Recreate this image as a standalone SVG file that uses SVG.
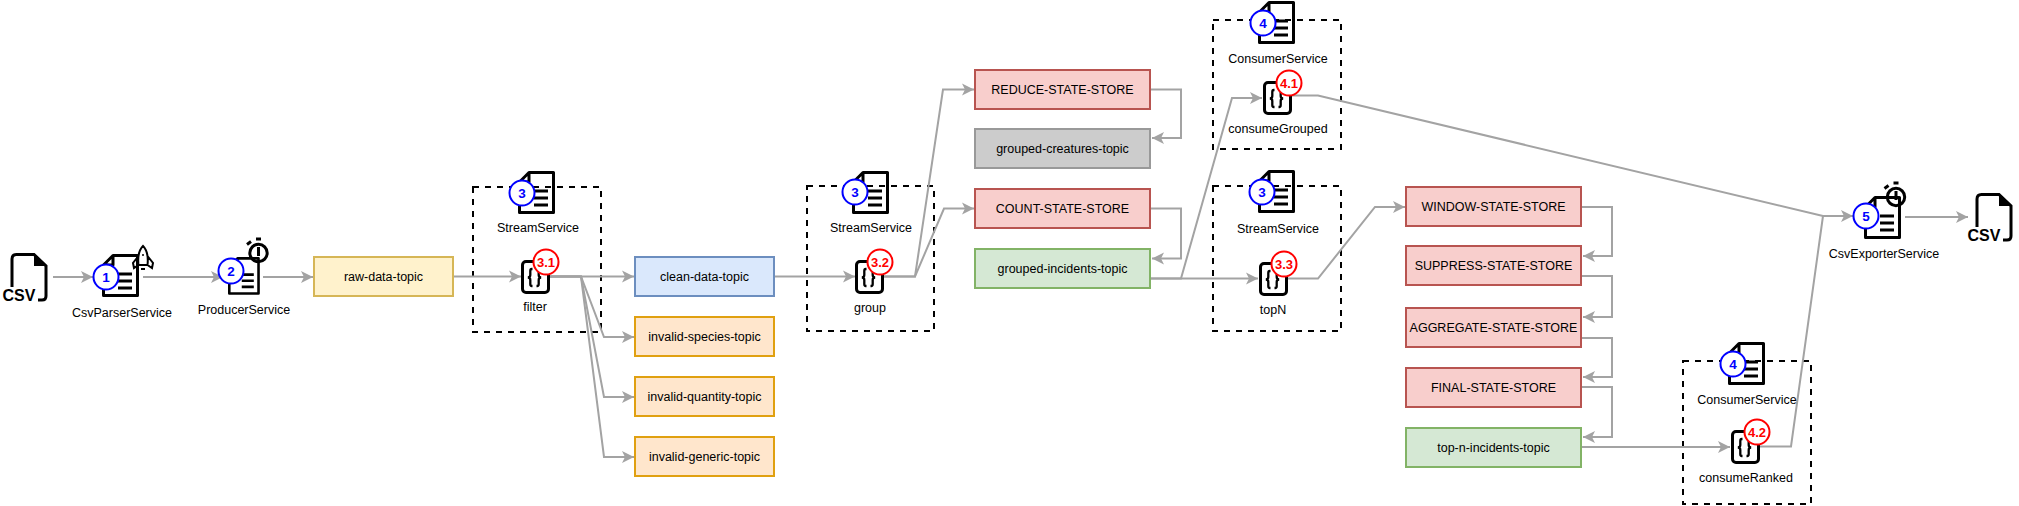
<svg xmlns="http://www.w3.org/2000/svg" xmlns:xlink="http://www.w3.org/1999/xlink" width="2019" height="506" viewBox="0 0 2019 506">
<style>
text{font-family:"Liberation Sans",Arial,sans-serif;font-size:12.5px;fill:#000;text-anchor:middle;dominant-baseline:central}
.c{fill:none;stroke:#a3a3a3;stroke-width:2;marker-end:url(#a)}
.n{fill:none;stroke:#a3a3a3;stroke-width:2}
.box{fill:none;stroke:#000;stroke-width:2;stroke-dasharray:6 6}
.y{fill:#fff2cc;stroke:#d6b656;stroke-width:2}
.b{fill:#dae8fc;stroke:#6c8ebf;stroke-width:2}
.o{fill:#ffe6cc;stroke:#e0a010;stroke-width:2}
.r{fill:#f8cecc;stroke:#b85450;stroke-width:2}
.g{fill:#cccccc;stroke:#999999;stroke-width:2}
.v{fill:#d5e8d4;stroke:#82b366;stroke-width:2}
.bb{fill:#fff;stroke:#0000ff;stroke-width:2}
.rb{fill:#fff;stroke:#ff0000;stroke-width:2}
.bt{fill:#0000ff;font-weight:bold;font-size:13.5px}
.rt{fill:#ff0000;font-weight:bold;font-size:13px}
.csv{font-weight:bold;font-size:16px;text-anchor:start;dominant-baseline:auto}
.i{fill:none;stroke:#000;stroke-width:3}
</style>
<defs>
<marker id="a" markerUnits="userSpaceOnUse" markerWidth="14" markerHeight="16" refX="13" refY="7" orient="auto"><path d="M1 1L13 7L1 13L4 7Z" fill="#a3a3a3"/></marker>
<g id="doc"><path class="i" stroke-linejoin="round" d="M11 1.500H35.500V41.500H1.500V11ZM11 1.500V11H1.500"/><path class="i" d="M16 20H30M16 27H30M16 34H30"/></g>
<g id="fn"><rect class="i" x="1.500" y="1.500" width="26" height="31" rx="3.500"/><path fill="none" stroke="#000" stroke-width="2.300" d="M11.500 9H10.800Q9.300 9 9.300 11V15Q9.300 17.500 6.800 17.500Q9.300 17.500 9.300 20V24Q9.300 26 10.800 26H11.500M15.500 9H16.200Q17.700 9 17.700 11V15Q17.700 17.500 20.200 17.500Q17.700 17.500 17.700 20V24Q17.700 26 16.200 26H15.500"/></g>
<g id="timer"><circle class="i" cx="0" cy="0" r="8.700"/><path class="i" d="M0 -6V3M-2.500 -14H2.500M-11.500 -8.500L-7.500 -11.500"/></g>
<g id="file"><path class="i" d="M2 34V6Q2 1.500 6.500 1.500H24L36 13V43Q36 47 32 47H28"/><path d="M24 1.500L36 13H24Z"/></g>
</defs>
<g id="group-filter"><rect class="box" x="473" y="187" width="128" height="145"/></g>
<g id="group-group"><rect class="box" x="807" y="186" width="127" height="145"/></g>
<g id="group-consumeGrouped"><rect class="box" x="1213" y="20" width="128" height="129"/></g>
<g id="group-topN"><rect class="box" x="1213" y="186" width="128" height="145"/></g>
<g id="group-consumeRanked"><rect class="box" x="1683" y="361" width="128" height="143"/></g>
<g id="connectors">
<path class="c" d="M53 277H93"/>
<path class="c" d="M143 277H223"/>
<path class="c" d="M263 277H313"/>
<path class="c" d="M454 276.500H521"/>
<path class="c" d="M550 276.500H634"/>
<path class="c" d="M550 276.500H581L604 337H634"/>
<path class="c" d="M550 276.500H581L604 397H634"/>
<path class="c" d="M550 276.500H581L604 457H634"/>
<path class="c" d="M775 276.500H855"/>
<path class="c" d="M884 276.500H915L943 89.500H974"/>
<path class="c" d="M884 276.500H915L944 208.500H974"/>
<path class="c" d="M1151 89.500H1181V138H1152"/>
<path class="c" d="M1151 208.500H1181V258.500H1152"/>
<path class="c" d="M1151 278.500H1258"/>
<path class="c" d="M1151 278.500H1181L1232 98H1262"/>
<path class="c" d="M1288 278.500H1318L1375 207H1405"/>
<path class="c" d="M1292 95.500H1318L1823 216H1853"/>
<path class="c" d="M1582 207H1612V256H1583"/>
<path class="c" d="M1582 276H1612V317H1583"/>
<path class="c" d="M1582 338H1612V377H1583"/>
<path class="c" d="M1582 387H1612V437H1583"/>
<path class="c" d="M1582 447H1730"/>
<path class="n" d="M1760 446.500H1791L1823 216"/>
<path class="c" d="M1905 217H1968"/>
</g>
<g id="csv-in"><use href="#file" x="10" y="253"/><rect x="2" y="287" width="34" height="16" fill="#fff"/><text class="csv" x="2.500" y="301">CSV</text></g>
<g id="CsvParserService"><use href="#doc" x="102" y="254"/>
<path class="i" style="stroke-width:2" d="M143 246C139 250 137.500 256 138.500 265H147.500C148.500 256 147 250 143 246ZM138.500 256L133 263L134 268L138.500 265M147.500 256L153 263L152 268L147.500 265M141 269H145"/><circle cx="143" cy="255" r="1"/>
<circle class="bb" cx="106" cy="277" r="12.500"/><text class="bt" x="106" y="277">1</text><text x="122" y="313">CsvParserService</text></g>
<g id="ProducerService"><use href="#doc" transform="translate(228 257) scale(.86 .88)"/><use href="#timer" x="258.500" y="253"/>
<circle class="bb" cx="231" cy="271" r="12.500"/><text class="bt" x="231" y="271">2</text><text x="244" y="310">ProducerService</text></g>
<g id="raw-data-topic"><rect class="y" x="314" y="257" width="139" height="39"/><text x="383.500" y="276.500">raw-data-topic</text></g>
<g id="StreamService-1"><use href="#doc" x="518" y="171"/><circle class="bb" cx="522" cy="193" r="12.500"/><text class="bt" x="522" y="193">3</text><text x="538" y="228">StreamService</text></g>
<g id="filter"><use href="#fn" x="521" y="260"/><circle class="rb" cx="546" cy="262" r="12.500"/><text class="rt" x="546" y="262">3.1</text><text x="535" y="307">filter</text></g>
<g id="clean-data-topic"><rect class="b" x="635" y="257" width="139" height="39"/><text x="704.500" y="276.500">clean-data-topic</text></g>
<g id="invalid-species-topic"><rect class="o" x="635" y="317" width="139" height="39"/><text x="704.500" y="336.500">invalid-species-topic</text></g>
<g id="invalid-quantity-topic"><rect class="o" x="635" y="377" width="139" height="39"/><text x="704.500" y="396.500">invalid-quantity-topic</text></g>
<g id="invalid-generic-topic"><rect class="o" x="635" y="437" width="139" height="39"/><text x="704.500" y="456.500">invalid-generic-topic</text></g>
<g id="StreamService-2"><use href="#doc" x="852" y="171"/><circle class="bb" cx="855" cy="192" r="12.500"/><text class="bt" x="855" y="192">3</text><text x="871" y="228">StreamService</text></g>
<g id="group"><use href="#fn" x="855" y="260"/><circle class="rb" cx="880" cy="262" r="12.500"/><text class="rt" x="880" y="262">3.2</text><text x="870" y="308">group</text></g>
<g id="REDUCE-STATE-STORE"><rect class="r" x="975" y="70" width="175" height="39"/><text x="1062.500" y="89.500">REDUCE-STATE-STORE</text></g>
<g id="grouped-creatures-topic"><rect class="g" x="975" y="129" width="175" height="39"/><text x="1062.500" y="148.500">grouped-creatures-topic</text></g>
<g id="COUNT-STATE-STORE"><rect class="r" x="975" y="189" width="175" height="39"/><text x="1062.500" y="208.500">COUNT-STATE-STORE</text></g>
<g id="grouped-incidents-topic"><rect class="v" x="975" y="249" width="175" height="39"/><text x="1062.500" y="268.500">grouped-incidents-topic</text></g>
<g id="ConsumerService-1"><use href="#doc" x="1258" y="1"/><circle class="bb" cx="1263" cy="23" r="12.500"/><text class="bt" x="1263" y="23">4</text><text x="1278" y="59">ConsumerService</text></g>
<g id="consumeGrouped"><use href="#fn" x="1263" y="81"/><circle class="rb" cx="1289" cy="83" r="12.500"/><text class="rt" x="1289" y="83">4.1</text><text x="1278" y="129">consumeGrouped</text></g>
<g id="StreamService-3"><use href="#doc" x="1258" y="170"/><circle class="bb" cx="1262" cy="192" r="12.500"/><text class="bt" x="1262" y="192">3</text><text x="1278" y="229">StreamService</text></g>
<g id="topN"><use href="#fn" x="1259" y="262"/><circle class="rb" cx="1284" cy="264" r="12.500"/><text class="rt" x="1284" y="264">3.3</text><text x="1273" y="310">topN</text></g>
<g id="WINDOW-STATE-STORE"><rect class="r" x="1406" y="187" width="175" height="39"/><text x="1493.500" y="206.500">WINDOW-STATE-STORE</text></g>
<g id="SUPPRESS-STATE-STORE"><rect class="r" x="1406" y="246" width="175" height="39"/><text x="1493.500" y="265.500">SUPPRESS-STATE-STORE</text></g>
<g id="AGGREGATE-STATE-STORE"><rect class="r" x="1406" y="308" width="175" height="39"/><text x="1493.500" y="327.500">AGGREGATE-STATE-STORE</text></g>
<g id="FINAL-STATE-STORE"><rect class="r" x="1406" y="368" width="175" height="39"/><text x="1493.500" y="387.500">FINAL-STATE-STORE</text></g>
<g id="top-n-incidents-topic"><rect class="v" x="1406" y="428" width="175" height="39"/><text x="1493.500" y="447.500">top-n-incidents-topic</text></g>
<g id="ConsumerService-2"><use href="#doc" x="1728" y="342"/><circle class="bb" cx="1733" cy="364" r="12.500"/><text class="bt" x="1733" y="364">4</text><text x="1747" y="400">ConsumerService</text></g>
<g id="consumeRanked"><use href="#fn" x="1731" y="430"/><circle class="rb" cx="1757" cy="432" r="12.500"/><text class="rt" x="1757" y="432">4.2</text><text x="1746" y="478">consumeRanked</text></g>
<g id="CsvExporterService"><use href="#doc" x="1864" y="196"/><use href="#timer" x="1896" y="197"/><circle class="bb" cx="1866" cy="216" r="12.500"/><text class="bt" x="1866" y="216">5</text><text x="1884" y="254">CsvExporterService</text></g>
<g id="csv-out"><use href="#file" x="1975" y="193"/><rect x="1967" y="227" width="34" height="16" fill="#fff"/><text class="csv" x="1967.500" y="241">CSV</text></g>
</svg>
